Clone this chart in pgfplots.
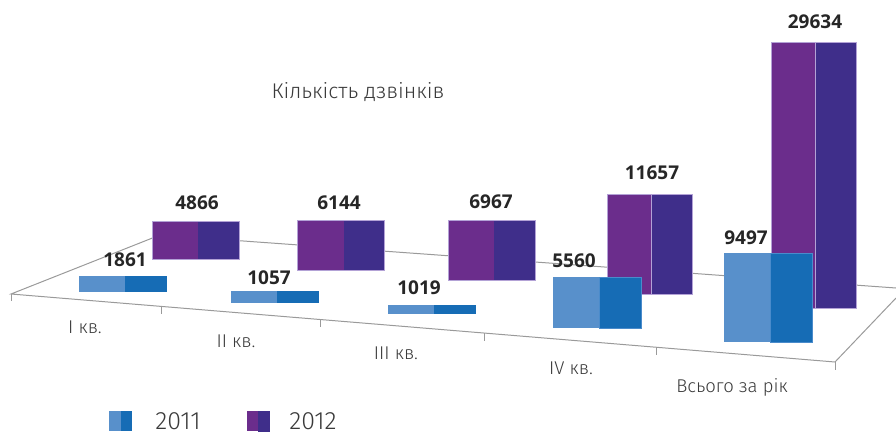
\documentclass[border=0pt]{standalone}
\usepackage{fontspec}
\setmainfont{Open Sans}
\newfontfamily\lightfont{Fira Sans Light}
\usepackage{pgfplots}
\pgfplotsset{compat=1.18}
\usepackage{pgfplotstable}
\definecolor{lblue}{HTML}{5890CB}
\definecolor{dblue}{HTML}{166CB5}
\definecolor{lpurple}{HTML}{6B2D8C}
\definecolor{dpurple}{HTML}{3F2E8A}
\definecolor{edgeblue}{HTML}{4A8BCB}
\definecolor{edgepurple}{HTML}{B3A2D6}
\definecolor{floorline}{HTML}{9A9A9A}
\definecolor{txt}{HTML}{3A3A3A}

% one face of a bar: style, x left, x right, y top, y base (all in image pixels)
\newcommand{\face}[5]{\addplot[#1] coordinates {(#2,#4) (#3,#4) (#3,#5) (#2,#5)} -- cycle;}
\newcommand{\barA}[5]{%
  \face{fill=lblue,draw=none}{#1}{#2}{#4}{#5}
  \face{fill=dblue,draw=none}{#2}{#3}{#4}{#5}}
\newcommand{\barB}[5]{%
  \face{fill=lpurple,draw=none}{#1}{#2}{#4}{#5}
  \face{fill=dpurple,draw=none}{#2}{#3}{#4}{#5}
  \face{fill=none,draw=edgepurple,line width=0.6pt}{#1}{#3}{#4}{#5}}

\pgfplotstableread{
x y label
125 260 1861
269 278 1057
419 288 1019
574 261 5560
746 238 9497
197 203 4866
339 203 6144
491 202 6967
652 173 11657
815 22 29634
}\valuelabels

\pgfplotstableread{
x y label
85 327 {I кв.}
236 341 {II кв.}
396 353 {III кв.}
571 368 {IV кв.}
732 387 {Всього за рік}
}\catlabels

\begin{document}
\begin{tikzpicture}
\begin{axis}[
    name=ax,
    width=896pt, height=433pt, scale only axis,
    xmin=0, xmax=896, ymin=0, ymax=433,
    y dir=reverse,
    hide axis, clip=false,
]
% floor
\addplot[floorline, line width=1pt] coordinates {(160,235) (11,294) (835,362) (896,298)};
\addplot[floorline, line width=1pt] coordinates {(160,235) (896,288)};
\addplot[floorline, line width=1pt] coordinates {(11,294) (11,301)};
\addplot[floorline, line width=1pt] coordinates {(161,307) (161,314)};
\addplot[floorline, line width=1pt] coordinates {(320,319) (320,327)};
\addplot[floorline, line width=1pt] coordinates {(484,333) (484,341)};
\addplot[floorline, line width=1pt] coordinates {(656,347) (656,355)};
\addplot[floorline, line width=1pt] coordinates {(835,362) (835,370)};

% 2012, back row
\barB{152}{198}{239}{221}{259}
\barB{297}{344}{384}{220}{270}
\barB{448}{494}{535}{220}{280}
\barB{607}{651}{692}{194}{294}
\barB{771}{815}{856}{42}{308}
\addplot[edgepurple, line width=0.5pt] coordinates {(651,194) (651,294)};
\addplot[edgepurple, line width=0.5pt] coordinates {(815,42) (815,308)};

% 2011, front row
\barA{79}{125}{167}{276}{292}
\barA{231}{277}{319}{291}{303}
\barA{388}{434}{476}{305}{314}
\barA{553}{599}{641}{277}{328}
\barA{724}{770}{812}{253}{342}
\addplot[edgeblue, line width=0.6pt] coordinates {(599,277) (641,277) (641,328) (599,328) (599,277)};
\addplot[edgeblue, line width=0.6pt] coordinates {(770,253) (812,253) (812,342) (770,342) (770,253)};

% value labels
\addplot[draw=none, mark=none, point meta=explicit symbolic,
    nodes near coords={\pgfplotspointmeta},
    nodes near coords style={anchor=center, inner sep=0pt, font=\fontsize{19}{22}\selectfont\bfseries, text=black!85}]
    table[x=x, y=y, meta=label] {\valuelabels};

% category labels
\addplot[draw=none, mark=none, point meta=explicit symbolic,
    nodes near coords={\pgfplotspointmeta},
    nodes near coords style={anchor=center, inner sep=0pt, font=\lightfont\fontsize{18.5}{20}\selectfont, text=txt}]
    table[x=x, y=y, meta=label] {\catlabels};

\node[font=\lightfont\fontsize{21.3}{24}\selectfont, text=txt] at (axis cs:358,92) {Кількість дзвінків};

% legend
\face{fill=lblue,draw=none}{109}{121}{411}{431}
\face{fill=dblue,draw=none}{121}{132}{411}{431}
\face{fill=lpurple,draw=none}{247}{258}{411}{431}
\face{fill=dpurple,draw=none}{258}{270}{411}{432}
\node[inner sep=0pt, font=\lightfont\fontsize{25}{27}\selectfont, text=txt] at (axis cs:178,421.5) {2011};
\node[inner sep=0pt, font=\lightfont\fontsize{25}{27}\selectfont, text=txt] at (axis cs:313,421.5) {2012};
\end{axis}
\pgfresetboundingbox
\path (ax.south west) rectangle (ax.north east);
\end{tikzpicture}
\end{document}
